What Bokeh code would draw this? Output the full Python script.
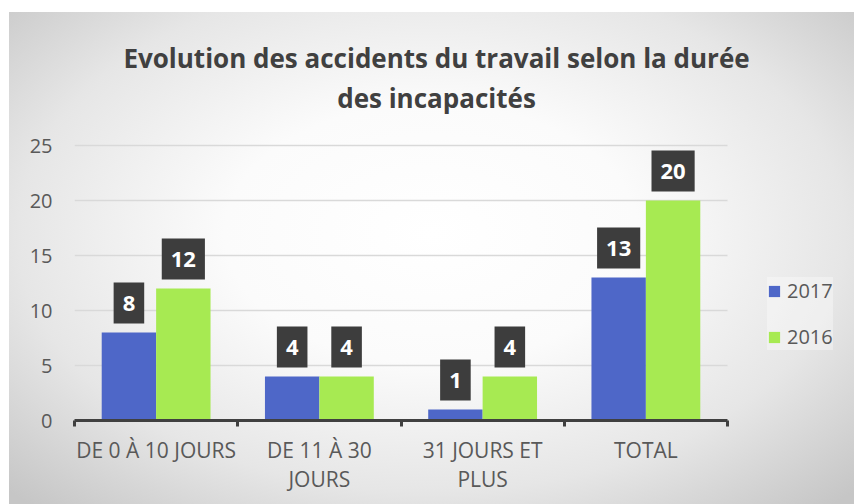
from bokeh.plotting import figure
from bokeh.models import ColumnDataSource, FixedTicker, Legend, LegendItem
from bokeh.embed import file_html
from bokeh.resources import INLINE
from bokeh.core.properties import value

# ---- data ----
title_lines = ["Evolution des accidents du travail selon la durée", "des incapacités"]
categories = ["DE 0 À 10 JOURS", "DE 11 À 30\nJOURS", "31 JOURS ET\nPLUS", "TOTAL"]
series_names = ["2017", "2016"]
values_2017 = [8, 4, 1, 13]
values_2016 = [12, 4, 4, 20]
y_ticks = [0, 5, 10, 15, 20, 25]

colors = ["#4E67C8", "#A7EA52"]
FONT = "Open Sans"

n = len(categories)
centers = [i + 0.5 for i in range(n)]
bounds = [i for i in range(n + 1)]
bar_w = 1 / 3.0

# layout: category slots span 653 px, value axis 275 px; the frame extends to the
# right (legend) and to the top (title) of the chart area
W, H = 845, 492
LEFT, RIGHT, BOTTOM = 65, 4, 84
cat_px = 653 / n
unit_px = 275 / y_ticks[-1]
x_end = (W - LEFT - RIGHT) / cat_px
y_end = (H - BOTTOM) / unit_px

# title placement (layout, in px from top of the chart area)
title_cx_px = 427 - LEFT
title_base_px = [45, 85]

src17 = ColumnDataSource(dict(x=[c - bar_w / 2 for c in centers], top=values_2017,
                              lab=[str(v) for v in values_2017]))
src16 = ColumnDataSource(dict(x=[c + bar_w / 2 for c in centers], top=values_2016,
                              lab=[str(v) for v in values_2016]))
grid_src = ColumnDataSource(dict(y=y_ticks[1:], x0=[0] * len(y_ticks[1:]), x1=[n] * len(y_ticks[1:])))
title_src = ColumnDataSource(dict(
    x=[title_cx_px / cat_px] * len(title_lines),
    y=[(H - BOTTOM - b) / unit_px for b in title_base_px],
    text=title_lines))

p = figure(width=W, height=H, x_range=(0, x_end), y_range=(y_ticks[0], y_end),
           output_backend="svg", toolbar_location=None, title=None,
           min_border_left=LEFT, min_border_right=RIGHT, min_border_top=0, min_border_bottom=BOTTOM)
p.margin = (12, 0, 0, 9)
p.styles = {"background": "radial-gradient(ellipse 70% 75% at 50% 45%, #ffffff 0%, #fbfbfb 35%, #e6e6e6 70%, #c6c6c6 100%)"}
p.border_fill_color = None
p.background_fill_color = None
p.outline_line_color = None
p.xgrid.grid_line_color = None
p.ygrid.grid_line_color = None

p.segment(x0="x0", x1="x1", y0="y", y1="y", source=grid_src, line_color="#d9d9d9", line_width=1.5)

r17 = p.vbar(x="x", top="top", width=bar_w, bottom=0, source=src17, color=colors[0], line_color=None)
r16 = p.vbar(x="x", top="top", width=bar_w, bottom=0, source=src16, color=colors[1], line_color=None)

for s in (src17, src16):
    p.text(x="x", y="top", text="lab", source=s, text_align="center", text_baseline="bottom",
           y_offset=-9, text_color="white", text_font=value(FONT), text_font_style="bold",
           text_font_size="22px", background_fill_color="#3d3d3d", padding=(9, 13))

p.text(x="x", y="y", text="text", source=title_src, text_align="center",
       text_baseline="alphabetic", text_color="#404040", text_font=value(FONT),
       text_font_style="bold", text_font_size="26px")

# axes
xa = p.xaxis[0]
xa.bounds = (0, n)
xa.ticker = FixedTicker(ticks=centers, minor_ticks=bounds)
xa.major_label_overrides = {c: lab for c, lab in zip(centers, categories)}
xa.axis_line_color = "#404040"
xa.axis_line_width = 3
xa.major_tick_line_color = None
xa.minor_tick_line_color = "#404040"
xa.minor_tick_line_width = 3
xa.minor_tick_out = 6
xa.minor_tick_in = 0
xa.major_label_text_font = FONT
xa.major_label_text_font_size = "21px"
xa.major_label_text_color = "#595959"
xa.major_label_text_line_height = 1.05
xa.major_label_standoff = 9

ya = p.yaxis[0]
ya.bounds = (y_ticks[0], y_ticks[-1])
ya.ticker = FixedTicker(ticks=y_ticks)
ya.axis_line_color = None
ya.major_tick_line_color = None
ya.minor_tick_line_color = None
ya.major_label_text_font = FONT
ya.major_label_text_font_size = "20px"
ya.major_label_text_color = "#595959"
ya.major_label_standoff = 16

legend = Legend(items=[LegendItem(label=series_names[0], renderers=[r17]),
                       LegendItem(label=series_names[1], renderers=[r16])],
                location=(693, 70), orientation="vertical", margin=0, padding=12,
                spacing=19, glyph_width=14, glyph_height=14, label_standoff=6,
                label_text_font=FONT, label_text_font_size="20px", label_text_color="#595959",
                background_fill_color="#ffffff", background_fill_alpha=0.35,
                border_line_color=None)
p.add_layout(legend, "center")

open("out.html", "w").write(file_html(p, INLINE))
